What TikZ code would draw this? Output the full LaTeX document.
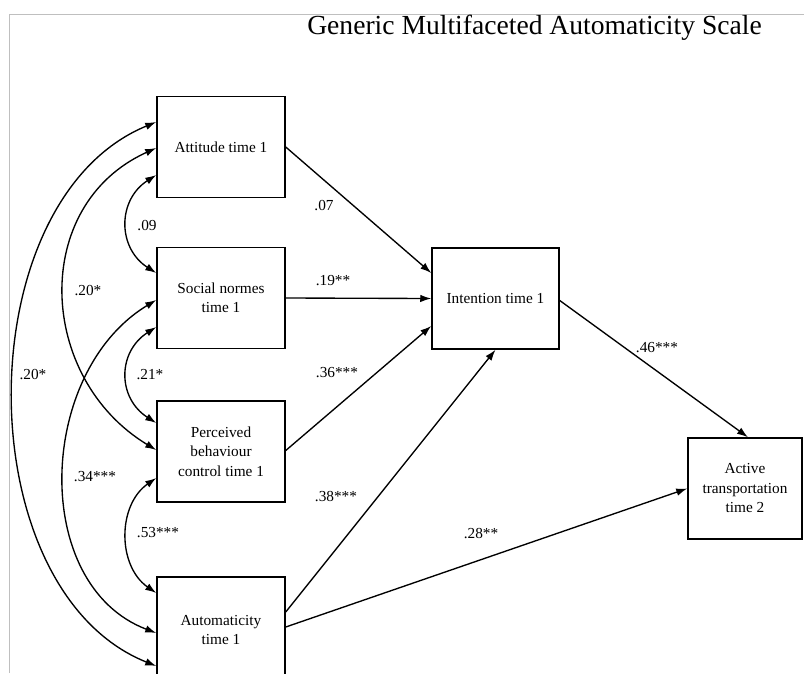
\documentclass[tikz,border=0pt]{standalone}
\usepackage{fontspec}
\setmainfont{Liberation Serif}
\usetikzlibrary{arrows.meta}
\begin{document}
\begin{tikzpicture}[x=1pt,y=-1pt,
  box/.style={draw, line width=1.5pt, align=center, font=\fontsize{15.3}{19.5}\selectfont, inner sep=0pt, minimum width=128pt, minimum height=101pt},
  conn/.style={line width=1.35pt, -{Latex[length=11pt,width=7.5pt]}},
  dbl/.style={line width=1.35pt, {Latex[length=11pt,width=7.5pt]}-{Latex[length=11pt,width=7.5pt]}},
  lab/.style={font=\fontsize{15.3}{18}\selectfont, inner sep=0pt},
  frame/.style={draw=black!25, line width=1pt}]
\useasboundingbox (0,0) rectangle (804,673);
\clip (0,0) rectangle (804,673);
\coordinate (fa) at (9,673);
\coordinate (fb) at (9,14);
\coordinate (fc) at (805,14);
\draw[frame] (fa) -- (fb) -- (fc);
\node[font=\fontsize{27.6}{32}\selectfont, inner sep=0pt] (title) at (534.5,28) {Generic Multifaceted Automaticity Scale};
\node[box] (att) at (221,147) {Attitude time 1};
\node[box] (soc) at (221,298) {Social normes\\time 1};
\node[box] (pbc) at (221,451.5) {Perceived\\behaviour\\control time 1};
\node[box, minimum height=106pt] (aut) at (221,630) {Automaticity\\time 1};
\node[box, minimum width=127pt] (int) at (495.5,298.5) {Intention time 1};
\node[box, minimum width=114pt] (act) at (745,488.5) {Active\\transportation\\time 2};
% paths
\draw[conn] (att.east) -- ([yshift=25.5pt]int.west);
\draw[conn] (soc.east) -- (int.west);
\draw[conn] ([yshift=1pt]pbc.east) -- ([yshift=-27.5pt]int.west);
\draw[conn] ([yshift=18pt]aut.east) -- (int.south);
\draw[conn] ([yshift=3pt]aut.east) -- (act.west);
\draw[conn] ([yshift=-2pt]int.east) -- ([xshift=3pt]act.north);
% correlations
\draw[dbl] ([yshift=-28pt]att.west) .. controls +(-39,25) and +(-39,-25) .. ([yshift=25pt]soc.west);
\draw[dbl] ([yshift=-29pt]soc.west) .. controls +(-39,25) and +(-39,-25) .. ([yshift=28.5pt]pbc.west);
\draw[dbl] ([yshift=-26.5pt]pbc.west) .. controls +(-39,27) and +(-39,-27) .. ([yshift=37pt]aut.west);
\draw[dbl] ([yshift=-1pt]att.west) .. controls (30,205) and (37,378) .. ([yshift=1.5pt]pbc.west);
\draw[dbl] ([yshift=-2pt]soc.west) .. controls (37,372) and (30,585) .. ([yshift=-3pt]aut.west);
\draw[dbl] ([yshift=25pt]att.west) .. controls (-34,200) and (-34,590) .. ([yshift=-36pt]aut.west);
% labels
\node[lab] (l09) at (147,226) {.09};
\node[lab] (l20a) at (88,291) {.20*};
\node[lab] (l20b) at (33,375) {.20*};
\node[lab] (l21) at (150,375) {.21*};
\node[lab] (l34) at (95,477) {.34***};
\node[lab] (l53) at (158,533) {.53***};
\node[lab] (l07) at (324,206) {.07};
\node[lab] (l19) at (333,281) {.19**};
\node[lab] (l36) at (337,373) {.36***};
\node[lab] (l38) at (336,497) {.38***};
\node[lab] (l28) at (481,534) {.28**};
\node[lab] (l46) at (657,348) {.46***};
\end{tikzpicture}
\end{document}
